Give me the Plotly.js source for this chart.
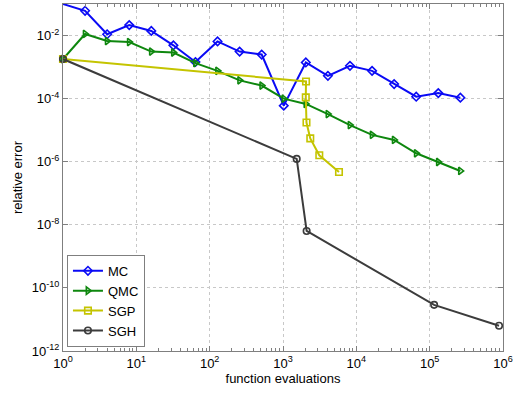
<!DOCTYPE html>
<html>
<head>
<meta charset="utf-8">
<script src="https://cdn.plot.ly/plotly-3.0.1.min.js"></script>
<style>
  html, body { margin: 0; padding: 0; background: #fff; }
  #chart { width: 513px; height: 394px; }
</style>
</head>
<body>
<div id="chart"></div>
<script>
// Sample counts (function evaluations) for the Monte Carlo style methods
const mcEvals = [1, 2, 4, 8, 16, 32, 64, 128, 256, 512, 1024, 2048, 4096, 8192,
                 16384, 32768, 65536, 131072, 262144];
const mcError = [0.1, 0.061, 0.011, 0.0215, 0.014, 0.0049, 0.00145, 0.0065, 0.0031,
                 0.0025, 6.0e-5, 0.0014, 5.3e-4, 0.0011, 7.6e-4, 2.9e-4, 1.15e-4,
                 1.5e-4, 1.07e-4];

const qmcEvals = mcEvals;
const qmcError = [0.0018, 0.0112, 0.0067, 0.0062, 0.0031, 0.0029, 0.00134, 7.6e-4,
                  3.8e-4, 2.6e-4, 1.0e-4, 6.8e-5, 3.25e-5, 1.45e-5, 7.1e-6, 4.9e-6,
                  1.85e-6, 9.8e-7, 5.1e-7];

// Sparse grid, polynomial basis
const sgpEvals = [1, 2060, 2045, 2090, 2355, 3125, 5800];
const sgpError = [0.0018, 3.5e-4, 1.1e-4, 1.75e-5, 5.5e-6, 1.6e-6, 4.7e-7];

// Sparse grid, hierarchical basis
const sghEvals = [1, 1537, 2100, 115000, 883000];
const sghError = [0.0018, 1.23e-6, 6.4e-9, 2.9e-11, 6.3e-12];

const xTickVals = [1, 10, 100, 1000, 10000, 100000, 1000000];
const xTickText = ['10<sup>0</sup>', '10<sup>1</sup>', '10<sup>2</sup>', '10<sup>3</sup>',
                   '10<sup>4</sup>', '10<sup>5</sup>', '10<sup>6</sup>'];
const yTickVals = [1e-12, 1e-10, 1e-8, 1e-6, 1e-4, 1e-2];
const yTickText = ['10<sup>-12</sup>', '10<sup>-10</sup>', '10<sup>-8</sup>',
                   '10<sup>-6</sup>', '10<sup>-4</sup>', '10<sup>-2</sup>'];

// minor decade ticks on the x axis (2..9 within each decade)
const xMinor = [];
for (let d = 0; d < 6; d++) {
  for (let m = 2; m <= 9; m++) xMinor.push(m * Math.pow(10, d));
}

function series(name, x, y, color, symbol) {
  return {
    type: 'scatter', mode: 'lines+markers', name: name, x: x, y: y,
    cliponaxis: false,
    line: { color: color, width: 2 },
    marker: { symbol: symbol, size: 6.5, color: color, line: { color: color, width: 1.6 } }
  };
}

const traces = [
  series('MC', mcEvals, mcError, '#0a0af5', 'diamond-open'),
  series('QMC', qmcEvals, qmcError, '#0e870e', 'triangle-right-open'),
  series('SGP', sgpEvals, sgpError, '#c4c400', 'square-open'),
  series('SGH', sghEvals, sghError, '#3c3c3c', 'circle-open')
];

const axisCommon = {
  type: 'log',
  showline: true, linecolor: '#7f7f7f', linewidth: 1, mirror: 'ticks',
  ticks: 'inside', ticklen: 5, tickcolor: '#7f7f7f', tickwidth: 1,
  showgrid: true, gridcolor: '#c8c8c8', griddash: 'dot', gridwidth: 1,
  zeroline: false,
  tickfont: { family: 'Liberation Sans, Arial, sans-serif', size: 13, color: '#000' },
  tickmode: 'array'
};

const layout = {
  width: 513, height: 394,
  margin: { l: 63, r: 10, t: 4, b: 43 },
  paper_bgcolor: '#fff', plot_bgcolor: '#fff',
  showlegend: true,
  legend: {
    x: 0.009, y: 0.012, xanchor: 'left', yanchor: 'bottom',
    bgcolor: '#fff', bordercolor: '#7f7f7f', borderwidth: 1,
    font: { family: 'Liberation Sans, Arial, sans-serif', size: 13, color: '#000' },
    tracegroupgap: 0, itemwidth: 30
  },
  xaxis: Object.assign({}, axisCommon, {
    range: [0, 6],
    tickvals: xTickVals, ticktext: xTickText,
    minor: { tickvals: xMinor, ticks: 'inside', ticklen: 3, tickcolor: '#7f7f7f', showgrid: false },
    title: { text: 'function evaluations', standoff: 4,
             font: { family: 'Liberation Sans, Arial, sans-serif', size: 13, color: '#000' } }
  }),
  yaxis: Object.assign({}, axisCommon, {
    range: [-12, -1],
    tickvals: yTickVals, ticktext: yTickText,
    title: { text: 'relative error', standoff: 6,
             font: { family: 'Liberation Sans, Arial, sans-serif', size: 13, color: '#000' } }
  })
};

Plotly.newPlot('chart', traces, layout, { staticPlot: true, displayModeBar: false });
</script>
</body>
</html>
